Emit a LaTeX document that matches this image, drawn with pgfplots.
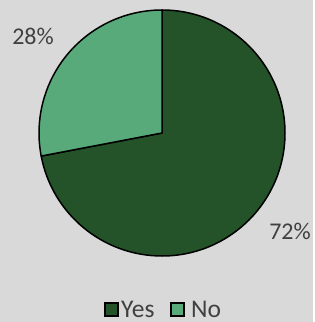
\documentclass[border=0pt]{standalone}
\usepackage{pgfplots}
\pgfplotsset{compat=1.18}
\usepackage{fontspec}
\setmainfont{Carlito}
\definecolor{bg}{HTML}{D9D9D9}
\definecolor{darkg}{HTML}{245229}
\definecolor{lightg}{HTML}{59AA7A}
\definecolor{txt}{HTML}{404040}
\begin{document}
\begin{tikzpicture}
\def\yes{72}
\def\no{28}
\begin{axis}[
  x=1bp, y=1bp,
  xmin=-162, xmax=151, ymin=-189, ymax=133,
  hide axis, clip=false,
]
\fill[bg] (axis cs:-162,-189) rectangle (axis cs:151,133);
\filldraw[fill=darkg, draw=black, line width=1.5bp, line join=round]
  (axis cs:0,0) -- (axis cs:0,123) arc[start angle=90, end angle={90-3.6*\yes}, radius=123bp] -- cycle;
\filldraw[fill=lightg, draw=black, line width=1.5bp, line join=round]
  (axis cs:0,0) -- (axis cs:0,123) arc[start angle=90, end angle={90+3.6*\no}, radius=123bp] -- cycle;
\node[text=txt, font=\fontsize{24bp}{28bp}\selectfont] at (axis cs:-129,97) {\no\%};
\node[text=txt, font=\fontsize{24bp}{28bp}\selectfont] at (axis cs:128,-98) {\yes\%};
\filldraw[fill=darkg, draw=black, line width=1.3bp] (axis cs:-57,-183) rectangle (axis cs:-44,-170);
\node[text=txt, anchor=base west, inner sep=0pt, font=\fontsize{25.5bp}{28bp}\selectfont] at (axis cs:-41,-184) {Yes};
\filldraw[fill=lightg, draw=black, line width=1.3bp] (axis cs:9,-183) rectangle (axis cs:22,-170);
\node[text=txt, anchor=base west, inner sep=0pt, font=\fontsize{25.5bp}{28bp}\selectfont] at (axis cs:29,-184) {No};
\end{axis}
\end{tikzpicture}
\end{document}
